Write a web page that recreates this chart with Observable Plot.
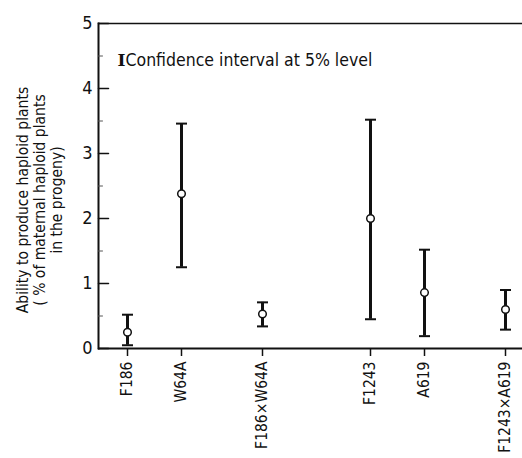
<!DOCTYPE html>
<html><head><meta charset="utf-8">
<script src="https://cdn.jsdelivr.net/npm/d3@7"></script>
<script src="https://cdn.jsdelivr.net/npm/@observablehq/plot@0.6"></script>
<style>
body{margin:0;background:#fff;}
#chart svg{font-family:"Liberation Sans Narrow","DejaVu Sans Condensed","DejaVu Sans",sans-serif;}
</style></head><body><div id="chart"></div>
<script>
const categories = ["F186","W64A","F186×W64A","F1243","A619","F1243×A619"];
const means = [0.25,2.38,0.53,2.0,0.86,0.6];
const lower = [0.05,1.25,0.34,0.45,0.19,0.29];
const upper = [0.52,3.46,0.71,3.52,1.52,0.9];
const yTicks = [0,1,2,3,4,5];
const yMinorTicks = [0.5,1.5,2.5,3.5,4.5];
const yLabel = "Ability to produce haploid plants\n( % of maternal haploid plants\nin the progeny)";
const legendText = "Confidence interval at 5% level";

// layout only: number of empty slots before each category (group spacing)
const gapsBefore = [0,1,2,3,1,2];
const domain = [];
categories.forEach((c,i)=>{ for(let k=0;k<gapsBefore[i];k++) domain.push(`gap${i}-${k}`); domain.push(c); });

const data = categories.map((c,i)=>({name:c, mean:means[i], lo:lower[i], hi:upper[i]}));
const capSymbol = {draw(ctx,size){const r=Math.sqrt(size/Math.PI); ctx.moveTo(-r,0); ctx.lineTo(r,0);}};
const tickShape = {draw(ctx,l){ctx.moveTo(0,0); ctx.lineTo(l,0);}};

const chart = Plot.plot({
  width:522, height:458, marginTop:23, marginBottom:110, marginLeft:98, marginRight:0,
  style:{fontSize:"17px", color:"#111", background:"#fff"},
  x:{type:"point", domain, padding:0, insetLeft:25, insetRight:14, axis:null},
  y:{domain:[0,5], axis:null},
  marks:[
    Plot.ruleY([5], {strokeWidth:1.5, stroke:"#111"}),
    Plot.ruleY([0], {strokeWidth:2, stroke:"#111"}),
    Plot.frame({anchor:"left", strokeWidth:2, stroke:"#111"}),
    Plot.axisY(yTicks, {tickSize:0, tickPadding:6, fontSize:18, tickFormat:d=>String(d)}),
    Plot.vector(yTicks, {y:d=>d, frameAnchor:"left", length:10, anchor:"start", shape:tickShape, strokeWidth:1.5, stroke:"#111"}),
    Plot.vector(yMinorTicks, {y:d=>d, frameAnchor:"left", length:4, anchor:"start", shape:tickShape, strokeWidth:1, stroke:"#555"}),
    Plot.axisX({ticks:categories, tickRotate:-90, tickSize:8, tickPadding:5, fontSize:15.5, label:null, strokeWidth:1.5}),
    Plot.ruleX(data, {x:"name", y1:"lo", y2:"hi", strokeWidth:3, stroke:"#111"}),
    Plot.dot(data, {x:"name", y:"hi", symbol:capSymbol, r:5.5, stroke:"#111", strokeWidth:2}),
    Plot.dot(data, {x:"name", y:"lo", symbol:capSymbol, r:5.5, stroke:"#111", strokeWidth:2}),
    Plot.dot(data, {x:"name", y:"mean", r:3.8, fill:"white", stroke:"#111", strokeWidth:1.5}),
    Plot.text(["I"], {frameAnchor:"top-left", dx:19, dy:30, textAnchor:"start", fontSize:17, fontWeight:"bold", fontFamily:"DejaVu Serif", fill:"#111"}),
    Plot.text([legendText], {frameAnchor:"top-left", dx:27, dy:30, textAnchor:"start", fontSize:17.5, fill:"#111"}),
    Plot.text([yLabel], {frameAnchor:"left", textAnchor:"middle", rotate:-90, dx:-59, dy:14, fontSize:15.5, lineHeight:1.12, fill:"#111"})
  ]
});
document.getElementById("chart").appendChild(chart);
</script>
</body></html>
